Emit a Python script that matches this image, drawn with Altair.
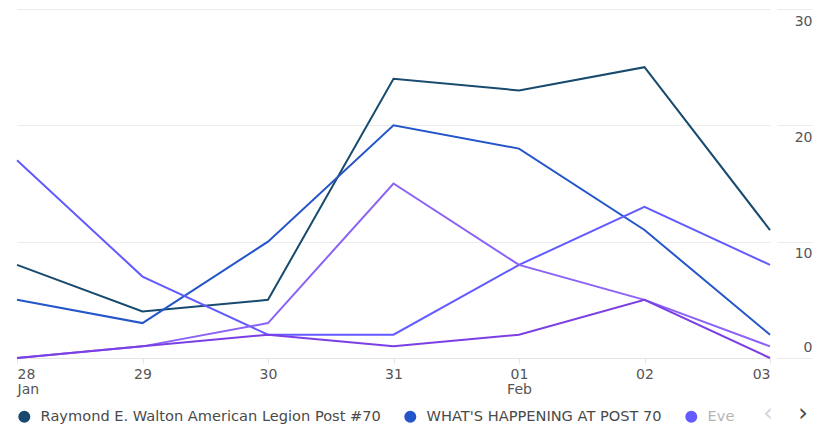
import altair as alt
import pandas as pd

days = ["28", "29", "30", "31", "01", "02", "03"]
series_names = [
    "Raymond E. Walton American Legion Post #70",
    "WHAT'S HAPPENING AT POST 70",
    "Events at Post 70",
    "Series 4",
    "Series 5",
]
series_colors = ["#174a6e", "#2456c9", "#635bff", "#8b63f7", "#7b3fe4"]
raymond = [8, 4, 5, 24, 23, 25, 11]
happening = [5, 3, 10, 20, 18, 11, 2]
events = [17, 7, 2, 2, 8, 13, 8]
series4 = [0, 1, 3, 15, 8, 5, 1]
series5 = [0, 1, 2, 1, 2, 5, 0]
y_ticks = [0, 10, 20, 30]
arrows = ["\u2039", "\u203a"]

values = [raymond, happening, events, series4, series5]
rows = []
for name, vals in zip(series_names, values):
    for d, v in zip(days, vals):
        rows.append({"day": d, "series": name, "value": v})
df = pd.DataFrame(rows)

FONT = "DejaVu Sans"
TXT = "#555555"

lines = alt.Chart(df).mark_line(strokeWidth=2).encode(
    x=alt.X(
        "day:O",
        sort=days,
        scale=alt.Scale(type="point", padding=0),
        title=None,
        axis=alt.Axis(
            labelAngle=0,
            labelExpr="datum.label == '28' ? ['28', 'Jan'] : datum.label == '01' ? ['01', 'Feb'] : datum.label",
            labelFlush=True,
            labelFont=FONT,
            labelFontSize=14,
            labelColor=TXT,
            labelLineHeight=15,
            labelPadding=4,
            domainColor="#e3e3e3",
            tickColor="#e3e3e3",
            tickSize=5,
            grid=False,
        ),
    ),
    y=alt.Y(
        "value:Q",
        scale=alt.Scale(domain=[0, 30], nice=False),
        title=None,
        axis=alt.Axis(
            orient="right",
            values=y_ticks,
            domain=False,
            ticks=True,
            tickSize=36,
            tickColor="#ececec",
            offset=7,
            grid=True,
            gridColor="#ececec",
            labelAlign="right",
            labelPadding=-1,
            labelFont=FONT,
            labelFontSize=14,
            labelColor=TXT,
            labelBaseline={"condition": {"test": "datum.value == 0", "value": "bottom"}, "value": "top"},
            labelOffset={"condition": {"test": "datum.value == 0", "value": -4}, "value": 5},
        ),
    ),
    color=alt.Color(
        "series:N",
        scale=alt.Scale(domain=series_names, range=series_colors),
        legend=alt.Legend(
            title=None,
            orient="none",
            direction="horizontal",
            legendX=0,
            legendY=400,
            values=series_names[:3],
            symbolType="circle",
            symbolSize=36,
            symbolStrokeWidth=6,
            labelFont=FONT,
            labelFontSize=14.6,
            labelColor={"expr": "datum.value == 'Events at Post 70' ? '#b5b5b5' : '#4a4a4a'"},
            labelExpr="datum.value == 'Events at Post 70' ? 'Eve' : datum.label",
            labelOffset=9,
            columnPadding=14,
            labelLimit=500,
        ),
    ),
)

arrow_df = pd.DataFrame({"a": [0]})
left_arrow = alt.Chart(arrow_df).mark_text(
    text=arrows[0], font=FONT, fontSize=24, color="#d4d4d4", align="center", baseline="middle"
).encode(x=alt.value(751), y=alt.value(405))
right_arrow = alt.Chart(arrow_df).mark_text(
    text=arrows[1], font=FONT, fontSize=24, color="#4a4a4a", align="center", baseline="middle"
).encode(x=alt.value(786), y=alt.value(405))

chart = (
    alt.layer(lines, left_arrow, right_arrow)
    .properties(
        width=753,
        height=349,
        autosize="none",
        padding={"left": 9, "top": 1, "right": 43, "bottom": 67},
    )
    .configure_view(stroke=None)
)

chart.save("out.html", embed_options={"renderer": "svg", "actions": False})
